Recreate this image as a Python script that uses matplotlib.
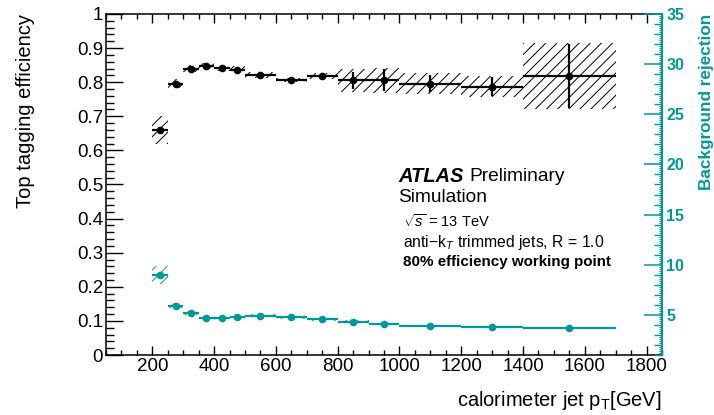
import numpy as np
import matplotlib
matplotlib.use("Agg")
import matplotlib.pyplot as plt
from matplotlib.ticker import MultipleLocator

plt.rcParams['font.family'] = ['Liberation Sans', 'DejaVu Sans']
plt.rcParams['mathtext.fontset'] = 'custom'
plt.rcParams['mathtext.rm'] = 'Liberation Sans'
plt.rcParams['mathtext.it'] = 'Liberation Sans:italic'
plt.rcParams['hatch.linewidth'] = 0.7

TEAL = "#009999"

# jet pT bins (GeV)
bin_lo = np.array([200, 250, 300, 350, 400, 450, 500, 600, 700, 800, 900, 1000, 1200, 1400])
bin_hi = np.array([250, 300, 350, 400, 450, 500, 600, 700, 800, 900, 1000, 1200, 1400, 1700])

# top tagging efficiency
eff = np.array([0.660, 0.796, 0.840, 0.848, 0.841, 0.837, 0.821, 0.806, 0.818, 0.805, 0.806, 0.796, 0.787, 0.818])
eff_stat = np.array([0.004, 0.004, 0.004, 0.004, 0.004, 0.004, 0.004, 0.004, 0.005, 0.025, 0.033, 0.025, 0.027, 0.095])
eff_band = np.array([0.040, 0.012, 0.010, 0.008, 0.008, 0.010, 0.008, 0.006, 0.008, 0.033, 0.037, 0.032, 0.030, 0.098])

# background rejection
rej = np.array([8.98, 5.89, 5.16, 4.72, 4.66, 4.76, 4.89, 4.76, 4.55, 4.32, 4.09, 3.89, 3.76, 3.72])
rej_stat = np.array([0.2, 0.2, 0.15, 0.1, 0.1, 0.1, 0.1, 0.1, 0.1, 0.1, 0.1, 0.1, 0.1, 0.1])
rej_band = np.array([0.9, 0.25, 0.2, 0.15, 0.15, 0.15, 0.15, 0.15, 0.15, 0.12, 0.1, 0.1, 0.1, 0.1])

centers = 0.5 * (bin_lo + bin_hi)
half = 0.5 * (bin_hi - bin_lo)

fig = plt.figure(figsize=(7.14, 4.15), dpi=100)
ax = fig.add_axes([106 / 714, 1 - 355 / 415, 556 / 714, 341 / 415])

# efficiency
ax.bar(centers, 2 * eff_band, bottom=eff - eff_band, width=bin_hi - bin_lo,
       fill=False, hatch="///", edgecolor="black", linewidth=0)
ax.errorbar(centers, eff, xerr=half, yerr=eff_stat, fmt="o", color="black",
            markersize=4.5, elinewidth=1.6, capsize=0)

ax.set_xlim(50, 1850)
ax.set_ylim(0, 1)
ax.xaxis.set_major_locator(MultipleLocator(200))
ax.xaxis.set_minor_locator(MultipleLocator(50))
ax.yaxis.set_major_locator(MultipleLocator(0.1))
ax.yaxis.set_minor_locator(MultipleLocator(0.02))
ax.set_yticks(np.arange(0, 1.01, 0.1))
ax.set_yticklabels(["0", "0.1", "0.2", "0.3", "0.4", "0.5", "0.6", "0.7", "0.8", "0.9", "1"])
ax.tick_params(axis="x", which="both", direction="in", top=True, labelsize=13.5, pad=2)
ax.tick_params(axis="x", which="major", length=6.5, width=1)
ax.tick_params(axis="x", which="minor", length=3.3, width=1)
ax.tick_params(axis="y", which="both", direction="in", right=False, labelsize=13.5, pad=2)
ax.tick_params(axis="y", which="major", length=12, width=1)
ax.tick_params(axis="y", which="minor", length=6, width=1)
for s in ax.spines.values():
    s.set_linewidth(1.1)
ax.spines["right"].set_visible(False)

ax.set_ylabel("Top tagging efficiency", fontsize=14.5, loc="top", labelpad=30)
ax.set_xlabel(r"calorimeter jet p$_{\mathregular{T}}$[GeV]", fontsize=14.5, loc="right", labelpad=10)

# background rejection on right axis
ax2 = ax.twinx()
ax2.bar(centers, 2 * rej_band, bottom=rej - rej_band, width=bin_hi - bin_lo,
        fill=False, hatch="///", edgecolor=TEAL, linewidth=0)
ax2.errorbar(centers, rej, xerr=half, yerr=rej_stat, fmt="o", color=TEAL,
             markersize=4.5, elinewidth=1.6, capsize=0)
ax2.set_ylim(1, 35)
ax2.yaxis.set_major_locator(MultipleLocator(5))
ax2.yaxis.set_minor_locator(MultipleLocator(1))
ax2.tick_params(axis="y", which="both", direction="in", colors=TEAL, pad=3)
ax2.tick_params(axis="y", which="major", length=13, width=1.1, labelsize=11.5)
ax2.tick_params(axis="y", which="minor", length=6, width=1)
for lab in ax2.get_yticklabels():
    lab.set_fontweight("bold")
ax2.spines["right"].set_color(TEAL)
ax2.spines["right"].set_linewidth(1.5)
for name in ["left", "top", "bottom"]:
    ax2.spines[name].set_visible(False)
ax2.set_ylabel("Background rejection", fontsize=12.3, fontweight="bold", color=TEAL,
               loc="top", labelpad=11)

# tiny ticks on the rejection axis
ax3 = ax.twinx()
ax3.set_ylim(1, 35)
ax3.yaxis.set_major_locator(MultipleLocator(0.2))
ax3.tick_params(axis="y", which="major", direction="in", colors=TEAL, length=2.5,
                width=0.8, labelright=False)
ax3.set_yticklabels([])
for s in ax3.spines.values():
    s.set_visible(False)

# labels
def px(x, y):
    return x / 714, 1 - y / 415

fig.text(*px(398, 176), "ATLAS", fontsize=14.5, fontweight="bold", style="italic", va="center")
fig.text(*px(469, 176), "Preliminary", fontsize=13.8, va="center")
fig.text(*px(398, 197), "Simulation", fontsize=13.8, va="center")
fig.text(*px(403, 221), r"$\sqrt{s}$ = 13 TeV", fontsize=10.5, va="center")
fig.text(*px(403, 242), r"anti$-$k$_{T}$ trimmed jets, R = 1.0", fontsize=11.3, va="center")
fig.text(*px(403, 262), "80% efficiency working point", fontsize=10.9, fontweight="bold", va="center")

fig.savefig("out.png", dpi=100)
